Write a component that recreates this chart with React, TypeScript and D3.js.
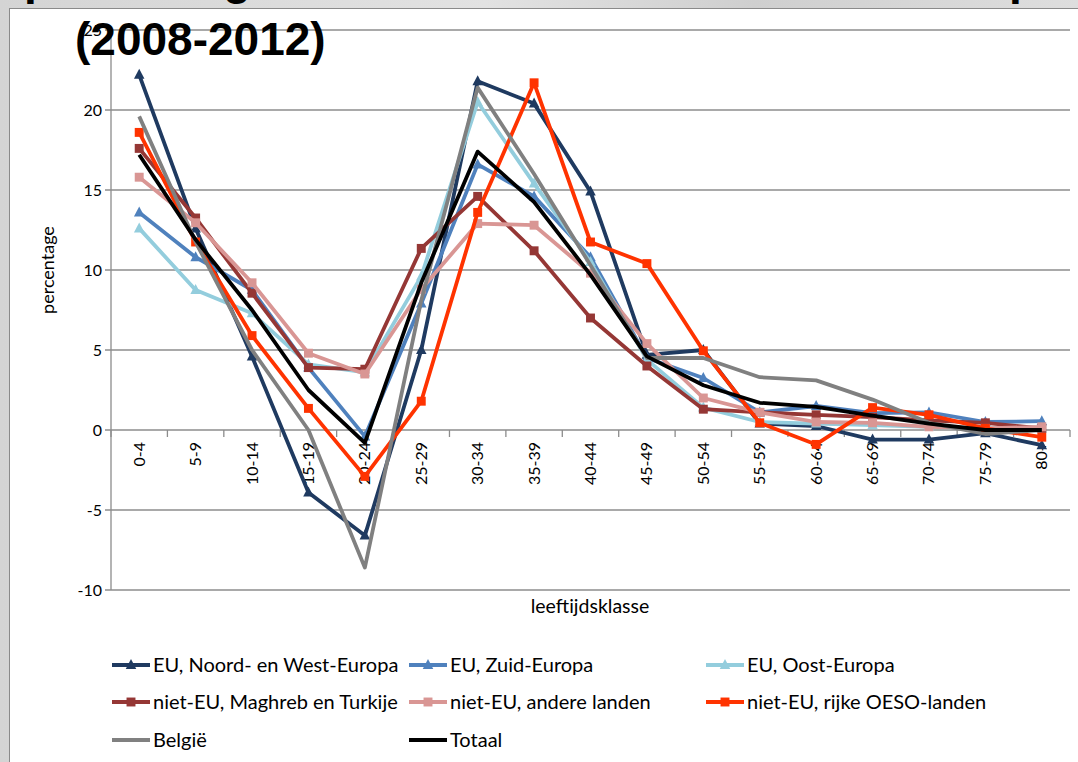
import React from 'react';
import * as d3 from 'd3';

const categories = ['0-4', '5-9', '10-14', '15-19', '20-24', '25-29', '30-34', '35-39', '40-44', '45-49', '50-54', '55-59', '60-64', '65-69', '70-74', '75-79', '80+'];

const euNoordWest = [22.2, 12.6, 4.6, -3.9, -6.6, 5.0, 21.8, 20.4, 14.9, 4.7, 5.0, 0.4, 0.25, -0.6, -0.6, -0.2, -0.95];
const euZuid = [13.6, 10.8, 8.75, 3.9, -0.4, 7.9, 16.6, 14.6, 10.8, 4.5, 3.25, 1.1, 1.5, 1.05, 1.1, 0.5, 0.55];
const euOost = [12.6, 8.75, 7.3, 4.1, 3.6, 9.6, 20.5, 15.4, 10.5, 4.4, 1.4, 0.5, 0.4, 0.3, 0.2, 0.1, 0.1];
const maghrebTurkije = [17.6, 13.25, 8.55, 3.9, 3.8, 11.35, 14.6, 11.2, 7.0, 4.0, 1.3, 1.1, 0.95, 0.8, 0.6, 0.45, 0.1];
const andereLanden = [15.8, 12.95, 9.2, 4.8, 3.5, 8.8, 12.9, 12.8, 9.8, 5.4, 2.0, 1.1, 0.5, 0.45, 0.2, 0.1, 0.2];
const rijkeOeso = [18.6, 11.75, 5.9, 1.35, -2.9, 1.8, 13.6, 21.7, 11.75, 10.4, 4.95, 0.45, -0.9, 1.4, 0.95, 0.1, -0.45];
const belgie = [19.6, 11.75, 5.0, 0.0, -8.6, 8.1, 21.4, 16.0, 10.3, 4.5, 4.5, 3.3, 3.1, 1.9, 0.45, -0.25, 0.0];
const totaal = [17.2, 11.9, 7.5, 2.5, -0.8, 9.2, 17.4, 14.25, 9.7, 4.6, 2.8, 1.7, 1.45, 0.9, 0.4, 0.0, 0.0];

const yTicks = [-10, -5, 0, 5, 10, 15, 20, 25];

type Series = { name: string; values: number[]; color: string; marker: 'triangle' | 'square' | 'none' };

const series: Series[] = [
  { name: 'EU, Noord- en West-Europa', values: euNoordWest, color: '#1F3A60', marker: 'triangle' },
  { name: 'EU, Zuid-Europa', values: euZuid, color: '#4F81BD', marker: 'triangle' },
  { name: 'EU, Oost-Europa', values: euOost, color: '#93CDDD', marker: 'triangle' },
  { name: 'niet-EU, Maghreb en Turkije', values: maghrebTurkije, color: '#953735', marker: 'square' },
  { name: 'niet-EU, andere landen', values: andereLanden, color: '#D99694', marker: 'square' },
  { name: 'niet-EU, rijke OESO-landen', values: rijkeOeso, color: '#FF3300', marker: 'square' },
  { name: 'België', values: belgie, color: '#808080', marker: 'none' },
  { name: 'Totaal', values: totaal, color: '#000000', marker: 'none' },
];

const width = 1078;
const height = 762;
const plot = { left: 111, right: 1070, top: 30, bottom: 590 };
const font = 'Lato, "Open Sans", sans-serif';

const Marker: React.FC<{ type: Series['marker']; x: number; y: number; color: string; size?: number }> = ({ type, x, y, color, size = 10.5 }) => {
  if (type === 'triangle') {
    const h = size * 0.95;
    return <path d={`M${x},${y - h * 0.6}L${x + size / 2},${y + h * 0.4}L${x - size / 2},${y + h * 0.4}Z`} fill={color} />;
  }
  if (type === 'square') {
    const s = size * 0.85;
    return <rect x={x - s / 2} y={y - s / 2} width={s} height={s} fill={color} />;
  }
  return null;
};

export default function App() {
  const x = d3.scaleBand().domain(categories).range([plot.left, plot.right]);
  const y = d3.scaleLinear().domain([-10, 25]).range([plot.bottom, plot.top]);
  const cx = (c: string) => (x(c) || 0) + x.bandwidth() / 2;

  const line = d3.line<number>()
    .x((_, i) => cx(categories[i]))
    .y(d => y(d));

  const legendCols = [112, 409, 706];
  const legendRows = [665, 702, 740];

  return (
    <div style={{ position: 'absolute', left: 0, top: 0, width, height, overflow: 'hidden' }}>
      <svg width={width} height={height} style={{ display: 'block' }}>
        <defs>
          <linearGradient id="bg" x1="0" x2="1" y1="0" y2="0">
            <stop offset="0" stopColor="#d4d4d4" />
            <stop offset="0.45" stopColor="#e2e2e2" />
            <stop offset="0.7" stopColor="#cfcfcf" />
            <stop offset="1" stopColor="#dedede" />
          </linearGradient>
        </defs>
        <rect x={0} y={0} width={width} height={height} fill="url(#bg)" />
        {/* first title line, mostly above the page */}
        <g fontFamily='"Liberation Sans", Arial, sans-serif' fontWeight="bold" fontSize={46} fill="#000">
          <text x={24} y={-6}>p</text>
          <text x={223} y={-6}>g</text>
          <text x={1009} y={-6}>p</text>
        </g>
        <rect x={9.5} y={8.5} width={width} height={height} fill="#fff" stroke="#8a8a8a" strokeWidth={1} />

        <g>
          {yTicks.map(t => (
            <g key={t}>
              <line x1={plot.left - 6} x2={plot.right} y1={y(t)} y2={y(t)} stroke="#8c8c8c" strokeWidth={1.3} />
              <text x={plot.left - 9} y={y(t)} dy="0.35em" textAnchor="end" fontFamily={font} fontSize={16} fill="#000">{t}</text>
            </g>
          ))}
          <line x1={plot.left} x2={plot.left} y1={plot.top} y2={plot.bottom} stroke="#8c8c8c" strokeWidth={1.3} />
          {d3.range(categories.length + 1).map(i => {
            const xx = plot.left + i * x.bandwidth();
            return <line key={i} x1={xx} x2={xx} y1={y(0)} y2={y(0) + 7} stroke="#8c8c8c" strokeWidth={1.3} />;
          })}
          {categories.map(c => (
            <text key={c} transform={`translate(${cx(c) + 5.5},${y(0) + 12}) rotate(-90)`} textAnchor="end" fontFamily={font} fontSize={16} fill="#000">{c}</text>
          ))}
        </g>

        {series.map(s => (
          <g key={s.name}>
            <path d={line(s.values) || ''} fill="none" stroke={s.color} strokeWidth={3.8} strokeLinejoin="round" />
            {s.values.map((v, i) => (
              <Marker key={i} type={s.marker} x={cx(categories[i])} y={y(v)} color={s.color} />
            ))}
          </g>
        ))}

        <text transform={`translate(54,270) rotate(-90)`} textAnchor="middle" fontFamily={font} fontSize={18} fill="#000">percentage</text>
        <text x={590} y={613} textAnchor="middle" fontFamily={font} fontSize={19.5} fill="#000">leeftijdsklasse</text>

        <text x={75} y={55} fontFamily='"Liberation Sans", Arial, sans-serif' fontWeight="bold" fontSize={46} fill="#000">(2008-2012)</text>

        {series.map((s, i) => {
          const lx = legendCols[i % 3];
          const ly = legendRows[Math.floor(i / 3)];
          return (
            <g key={s.name}>
              <line x1={lx} x2={lx + 38} y1={ly} y2={ly} stroke={s.color} strokeWidth={3.8} />
              <Marker type={s.marker} x={lx + 19} y={ly} color={s.color} />
              <text x={lx + 41} y={ly} dy="0.35em" fontFamily={font} fontSize={20} fill="#000">{s.name}</text>
            </g>
          );
        })}
      </svg>
    </div>
  );
}
